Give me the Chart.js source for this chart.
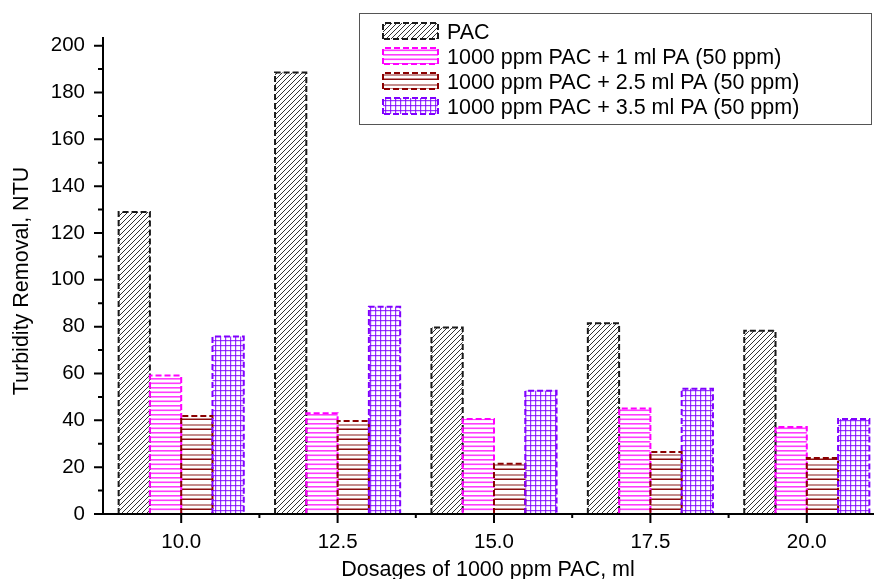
<!DOCTYPE html>
<html>
<head>
<meta charset="utf-8">
<script src="https://cdn.jsdelivr.net/npm/chart.js@4"></script>
<style>
  html,body{margin:0;padding:0;background:#fff;overflow:hidden;}
  #wrap{width:874px;height:579px;overflow:hidden;}
</style>
</head>
<body>
<div id="wrap"><canvas id="chart" width="900" height="579"></canvas></div>
<script>
const categories = ['10.0','12.5','15.0','17.5','20.0'];
const seriesNames = [
  'PAC',
  '1000 ppm PAC + 1 ml PA (50 ppm)',
  '1000 ppm PAC + 2.5 ml PA (50 ppm)',
  '1000 ppm PAC + 3.5 ml PA (50 ppm)'
];
const pac   = [129, 188.5, 79.6, 81.5, 78.3];
const pa1   = [59.1, 43, 40.6, 45, 37.2];
const pa25  = [41.8, 39.7, 21.5, 26.5, 23.9];
const pa35  = [75.8, 88.5, 52.6, 53.5, 40.6];
const yMajorStep = 20;
const yMinorStep = 10;
const yTop = 200;

const FONT = '"Liberation Sans", Arial, sans-serif';

function tile(w, h, paint){
  const c = document.createElement('canvas');
  c.width = w; c.height = h;
  const g = c.getContext('2d');
  g.fillStyle = '#fff';
  g.fillRect(0, 0, w, h);
  paint(g);
  return g.createPattern(c, 'repeat');
}

// fill patterns for the four series
const hatch = tile(5, 5, g => {
  g.strokeStyle = '#333'; g.lineWidth = 1;
  g.beginPath();
  g.moveTo(-1, 6); g.lineTo(6, -1);
  g.moveTo(-1, 1); g.lineTo(1, -1);
  g.moveTo(4, 6); g.lineTo(6, 4);
  g.stroke();
});
const pinkLines = tile(4, 9, g => {
  g.fillStyle = '#ff3cff';
  g.fillRect(0, 0, 4, 1.6);
  g.fillRect(0, 4.5, 4, 1.6);
});
const brownLines = tile(4, 10, g => {
  g.fillStyle = '#c48c8c';
  g.fillRect(0, 4, 4, 2);
  g.fillStyle = '#8b1010';
  g.fillRect(0, 8.5, 4, 1.5);
});
const purpleGrid = tile(5, 5, g => {
  g.fillStyle = 'rgba(128,0,255,0.8)';
  g.fillRect(0, 0, 1.2, 5);
  g.fillRect(0, 0, 5, 1.2);
});

const fills   = [hatch, pinkLines, brownLines, purpleGrid];
const borders = ['#1a1a1a', '#ff00ff', '#8b0000', '#8000ff'];
const values  = [pac, pa1, pa25, pa35];

function dashedOutline(ctx, l, t, r, b, color, closed){
  ctx.save();
  ctx.strokeStyle = color;
  ctx.lineWidth = 2;
  ctx.setLineDash([6, 3]);
  ctx.beginPath();
  ctx.moveTo(l, b); ctx.lineTo(l, t); ctx.lineTo(r, t); ctx.lineTo(r, b);
  if (closed) ctx.closePath();
  ctx.stroke();
  ctx.restore();
}

const decor = {
  id: 'decor',
  afterDatasetsDraw(chart){
    const ctx = chart.ctx;
    chart.data.datasets.forEach((ds, i) => {
      chart.getDatasetMeta(i).data.forEach(bar => {
        const p = bar.getProps(['x','y','base','width'], true);
        dashedOutline(ctx, p.x - p.width/2, p.y, p.x + p.width/2, p.base, borders[i], false);
      });
    });
  },
  afterDraw(chart){
    const ctx = chart.ctx;
    const area = chart.chartArea;
    const xs = chart.scales.x, ys = chart.scales.y;
    ctx.save();
    ctx.strokeStyle = '#000';
    ctx.lineWidth = 2;
    ctx.beginPath();
    // axis lines
    ctx.moveTo(area.left, area.top); ctx.lineTo(area.left, area.bottom + 1);
    ctx.moveTo(area.left - 1, area.bottom); ctx.lineTo(chart.width, area.bottom);
    // y ticks, major and minor
    for (let v = 0; v <= yTop; v += yMinorStep) {
      const py = ys.getPixelForValue(v);
      const len = v % yMajorStep === 0 ? 9 : 5;
      ctx.moveTo(area.left - len, py); ctx.lineTo(area.left, py);
    }
    // x ticks at categories, minor between them
    categories.forEach((c, i) => {
      const px = xs.getPixelForValue(i);
      ctx.moveTo(px, area.bottom); ctx.lineTo(px, area.bottom + 9);
      if (i > 0) {
        const mx = (px + xs.getPixelForValue(i - 1)) / 2;
        ctx.moveTo(mx, area.bottom); ctx.lineTo(mx, area.bottom + 4);
      }
    });
    ctx.stroke();

    // axis titles
    ctx.fillStyle = '#000';
    ctx.font = '21.5px ' + FONT;
    ctx.textAlign = 'center';
    ctx.textBaseline = 'alphabetic';
    ctx.fillText('Dosages of 1000 ppm PAC, ml', 488, 576);
    ctx.save();
    ctx.translate(28, 281);
    ctx.rotate(-Math.PI / 2);
    ctx.fillText('Turbidity Removal, NTU', 0, 0);
    ctx.restore();

    // legend box
    ctx.strokeStyle = '#555';
    ctx.lineWidth = 1;
    ctx.strokeRect(359.5, 13.5, 512, 111);
    ctx.textAlign = 'left';
    seriesNames.forEach((name, i) => {
      const base = 39 + i * 25;
      ctx.fillStyle = fills[i];
      ctx.fillRect(383, base - 16, 55, 16);
      dashedOutline(ctx, 383, base - 16, 438, base, borders[i], true);
      ctx.fillStyle = '#000';
      ctx.fillText(name, 447, base);
    });
    ctx.restore();
  }
};

new Chart(document.getElementById('chart'), {
  type: 'bar',
  data: {
    labels: categories,
    datasets: values.map((v, i) => ({
      label: seriesNames[i],
      data: v,
      backgroundColor: fills[i],
      borderWidth: 0
    }))
  },
  options: {
    responsive: false,
    animation: false,
    layout: { padding: { top: 37, right: 15, left: 0, bottom: 0 } },
    datasets: { bar: { categoryPercentage: 0.8, barPercentage: 1.0 } },
    plugins: { legend: { display: false }, tooltip: { enabled: false } },
    scales: {
      x: {
        grid: { display: false, drawTicks: false },
        border: { display: false },
        ticks: { color: '#000', font: { family: FONT, size: 20.5 }, padding: 16, maxRotation: 0 },
        afterFit: s => { s.height = 65; }
      },
      y: {
        min: 0,
        max: 203.7,
        grid: { display: false, drawTicks: false },
        border: { display: false },
        ticks: { stepSize: yMajorStep, includeBounds: false, color: '#000', font: { family: FONT, size: 20.5 }, padding: 18 },
        afterFit: s => { s.width = 103; }
      }
    }
  },
  plugins: [decor]
});
</script>
</body>
</html>
